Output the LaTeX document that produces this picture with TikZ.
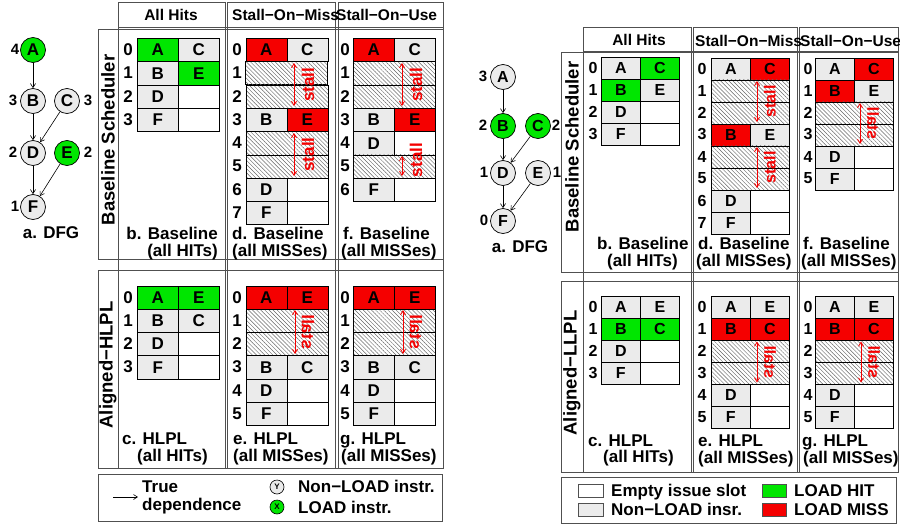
\documentclass[tikz,border=0pt]{standalone}
\usepackage{fontspec}
\setmainfont{Liberation Sans}
\usetikzlibrary{arrows.meta,patterns.meta}

\definecolor{hitg}{RGB}{0,230,0}
\definecolor{missr}{RGB}{245,0,0}
\definecolor{cellg}{RGB}{235,235,235}
\definecolor{framec}{RGB}{80,80,80}

\newcommand\bfs[1]{\fontsize{#1}{#1}\selectfont\bfseries}

\tikzset{
 cell/.style={draw=black, line width=0.7pt, inner sep=0pt, anchor=north west, font=\cellfont},
 cL/.style={fill=cellg}, cG/.style={fill=hitg}, cR/.style={fill=missr}, cW/.style={fill=white},
 hatchrow/.style={draw=black, line width=0.7pt, inner sep=0pt, anchor=north west,
   pattern={Lines[angle=-45,distance=2.9pt,line width=0.45pt]}, pattern color=black!60},
 rownum/.style={font=\cellfont, inner sep=0pt},
 frame/.style={draw=framec, line width=1pt},
 dnode/.style={circle, draw=black, line width=0.7pt, minimum size=25pt, inner sep=0pt, font=\dfgfont, fill=cellg},
 dnum/.style={font=\bfs{15}, inner sep=0pt},
 dep/.style={-{Straight Barb[length=4pt,width=5pt]}, line width=0.6pt},
 stallarr/.style={{Straight Barb[length=4pt,width=5pt]}-{Straight Barb[length=4pt,width=5pt]}, draw=missr, line width=0.8pt},
 stalltxt/.style={text=missr, font=\stallfont, inner sep=0pt, rotate=90},
 mirror/.style={yscale=-1},
 lbl/.style={font=\bfs{17}, inner sep=0pt},
 hdr/.style={font=\bfs{15.5}, inner sep=0pt},
 side/.style={font=\bfs{18.5}, inner sep=0pt, rotate=90},
 lcirc/.style={circle, draw=black, line width=0.6pt, minimum size=14pt, inner sep=0pt, font=\bfs{8}},
 swatch/.style={draw=framec, line width=0.8pt},
}

\newcommand\trow[6]{%
  \node[cell,#3,minimum width=\cw,minimum height=\rh] (#1#2a) at (\tx,{\ty+#2*\rh}) {#4};
  \node[cell,#5,minimum width=\cw,minimum height=\rh] (#1#2b) at ({\tx+\cw},{\ty+#2*\rh}) {#6};
  \node[rownum] (#1n#2) at (\nx,{\ty+(#2+0.5)*\rh}) {#2};}
\newcommand\hrow[2]{%
  \node[hatchrow,minimum width={2*\cw},minimum height=\rh] (#1#2h) at (\tx,{\ty+#2*\rh}) {};
  \node[rownum] (#1n#2) at (\nx,{\ty+(#2+0.5)*\rh}) {#2};}
\newcommand\stallmark[7]{%
  \coordinate (#1t) at (#2,#3); \coordinate (#1b) at (#2,#4);
  \draw[stallarr] (#1t) -- (#1b);
  \node[stalltxt,#7] (#1l) at (#5,#6) {stall};}

\begin{document}
\begin{tikzpicture}[x={(1pt,0)}, y={(0,-1pt)}]
\useasboundingbox (0,0) rectangle (900,525);
\fill[white] (0,0) rectangle (900,525);

%================ LEFT PANEL =================
% frames
\draw[frame] (118,2) rectangle (225,468);
\draw[frame] (227,2) rectangle (335,468);
\draw[frame] (338,2) rectangle (443,468);
\draw[frame] (118,27) -- (443,27);
\draw[frame] (98,29) rectangle (443,259);
\draw[frame] (98,270) rectangle (443,468);
\draw[frame] (98,474) rectangle (442,521);

\node[hdr] (LhA) at (171,15) {All Hits};
\node[hdr,anchor=base west] (LhM) at (232,20) {Stall−On−Miss};
\node[hdr,anchor=base west] (LhU) at (336,20) {Stall−On−Use};
\node[side] (LsB) at (108,140) {Baseline Scheduler};
\node[side] (LsA) at (108,365) {Aligned−HLPL};

% DFG
\def\dfgfont{\bfs{17}}
\node[dnode,fill=hitg] (LA) at (33,50) {A};
\node[dnode] (LB) at (33,101) {B};
\node[dnode] (LC) at (67,101) {C};
\node[dnode] (LD) at (33,153) {D};
\node[dnode,fill=hitg] (LE) at (67,153) {E};
\node[dnode] (LF) at (33,207) {F};
\draw[dep] (LA) -- (LB);
\draw[dep] (LB) -- (LD);
\draw[dep] (LC) -- (LD);
\draw[dep] (LD) -- (LF);
\draw[dep] (LE) -- (LF);
\node[dnum] (LnA) at (15,49) {4};
\node[dnum] (LnB) at (13,100) {3};
\node[dnum] (LnC) at (88,100) {3};
\node[dnum] (LnD) at (13,152) {2};
\node[dnum] (LnE) at (88,152) {2};
\node[dnum] (LnF) at (15,206) {1};
\node[lbl,anchor=base] (LdfgT) at (51,238) {a. DFG};

% tables
\def\cellfont{\bfs{17}}
\def\stallfont{\bfs{17}}
\def\cw{41}\def\rh{23.3}
% b
\def\tx{137}\def\ty{38}\def\nx{128}
\trow{Lb}{0}{cG}{A}{cL}{C}
\trow{Lb}{1}{cL}{B}{cG}{E}
\trow{Lb}{2}{cL}{D}{cW}{}
\trow{Lb}{3}{cL}{F}{cW}{}
% d
\def\tx{245.5}\def\nx{237}
\trow{Ld}{0}{cR}{A}{cL}{C}
\hrow{Ld}{1}\hrow{Ld}{2}
\trow{Ld}{3}{cL}{B}{cR}{E}
\hrow{Ld}{4}\hrow{Ld}{5}
\trow{Ld}{6}{cL}{D}{cW}{}
\trow{Ld}{7}{cL}{F}{cW}{}
% f
\def\tx{353}\def\nx{345}
\trow{Lf}{0}{cR}{A}{cL}{C}
\hrow{Lf}{1}\hrow{Lf}{2}
\trow{Lf}{3}{cL}{B}{cR}{E}
\trow{Lf}{4}{cL}{D}{cW}{}
\hrow{Lf}{5}
\trow{Lf}{6}{cL}{F}{cW}{}
% c
\def\tx{137}\def\ty{285.5}\def\nx{128}
\trow{Lc}{0}{cG}{A}{cG}{E}
\trow{Lc}{1}{cL}{B}{cL}{C}
\trow{Lc}{2}{cL}{D}{cW}{}
\trow{Lc}{3}{cL}{F}{cW}{}
% e
\def\tx{245.5}\def\nx{237}
\trow{Le}{0}{cR}{A}{cR}{E}
\hrow{Le}{1}\hrow{Le}{2}
\trow{Le}{3}{cL}{B}{cL}{C}
\trow{Le}{4}{cL}{D}{cW}{}
\trow{Le}{5}{cL}{F}{cW}{}
% g
\def\tx{353}\def\nx{345}
\trow{Lg}{0}{cR}{A}{cR}{E}
\hrow{Lg}{1}\hrow{Lg}{2}
\trow{Lg}{3}{cL}{B}{cL}{C}
\trow{Lg}{4}{cL}{D}{cW}{}
\trow{Lg}{5}{cL}{F}{cW}{}

% stalls
\stallmark{Lsd1}{294}{63}{106}{308}{84.6}{}
\stallmark{Lsd2}{294}{133}{176}{308}{154.5}{}
\stallmark{Lsf1}{402}{63}{106}{416}{84.6}{}
\stallmark{Lsf2}{402}{156}{176}{416}{160}{}
\stallmark{Lse1}{295}{310}{354}{308}{332}{mirror}
\stallmark{Lsg1}{403}{310}{354}{416}{332}{mirror}

% captions
\node[lbl,anchor=base east] (Lcb1) at (218,239) {b. Baseline};
\node[lbl,anchor=base east] (Lcb2) at (218,256) {(all HITs)};
\node[lbl,anchor=base west] (Lcd1) at (232,239) {d. Baseline};
\node[lbl,anchor=base west] (Lcd2) at (232,256) {(all MISSes)};
\node[lbl,anchor=base west] (Lcf1) at (343,239) {f. Baseline};
\node[lbl,anchor=base west] (Lcf2) at (341,256) {(all MISSes)};
\node[lbl,anchor=base west] (Lcc1) at (122,444) {c. HLPL};
\node[lbl,anchor=base west] (Lcc2) at (137,461) {(all HITs)};
\node[lbl,anchor=base west] (Lce1) at (233,444) {e. HLPL};
\node[lbl,anchor=base west] (Lce2) at (233,461) {(all MISSes)};
\node[lbl,anchor=base west] (Lcg1) at (340,444) {g. HLPL};
\node[lbl,anchor=base west] (Lcg2) at (341,461) {(all MISSes)};

% legend
\coordinate (LlgA) at (113,497);
\coordinate (LlgB) at (138,497);
\draw[dep] (LlgA) -- (LlgB);
\node[lbl,anchor=base west] (Llg1) at (142,492) {True};
\node[lbl,anchor=base west] (Llg2) at (142,510) {dependence};
\node[lcirc,fill=cellg] (LlgY) at (277,487) {Y};
\node[lcirc,fill=hitg] (LlgX) at (277,507) {X};
\node[lbl,anchor=base west] (Llg3) at (298,492) {Non−LOAD instr.};
\node[lbl,anchor=base west] (Llg4) at (298,513) {LOAD instr.};

%================ RIGHT PANEL =================
\draw[frame] (583,27) rectangle (691,472);
\draw[frame] (693,27) rectangle (797,472);
\draw[frame] (799,27) rectangle (898,472);
\draw[frame] (583,51) -- (898,51);
\draw[frame] (561,52) rectangle (898,272);
\draw[frame] (561,281) rectangle (898,472);
\draw[frame] (561,477) rectangle (896,523);

\node[hdr] (RhA) at (639,40) {All Hits};
\node[hdr,anchor=base west] (RhM) at (695,46) {Stall−On−Miss};
\node[hdr,anchor=base west] (RhU) at (800,46) {Stall−On−Use};
\node[side] (RsB) at (572,147) {Baseline Scheduler};
\node[side] (RsA) at (572,373) {Aligned−LLPL};

% DFG
\def\dfgfont{\bfs{16}}
\node[dnode] (RA) at (503,77) {A};
\node[dnode,fill=hitg] (RB) at (503,126) {B};
\node[dnode,fill=hitg] (RC) at (538,126) {C};
\node[dnode] (RD) at (503,173) {D};
\node[dnode] (RE) at (538,173) {E};
\node[dnode] (RF) at (503,221) {F};
\draw[dep] (RA) -- (RB);
\draw[dep] (RB) -- (RD);
\draw[dep] (RC) -- (RD);
\draw[dep] (RD) -- (RF);
\draw[dep] (RE) -- (RF);
\node[dnum] (RnA) at (483,76) {3};
\node[dnum] (RnB) at (483,125) {2};
\node[dnum] (RnC) at (556,125) {2};
\node[dnum] (RnD) at (484,172) {1};
\node[dnum] (RnE) at (557,172) {1};
\node[dnum] (RnF) at (484,220) {0};
\node[lbl,anchor=base] (RdfgT) at (520,252) {a. DFG};

% tables
\def\cellfont{\bfs{16}}
\def\stallfont{\bfs{16}}
\def\cw{39}\def\rh{22}
% b
\def\tx{601}\def\ty{57}\def\nx{593}
\trow{Rb}{0}{cL}{A}{cG}{C}
\trow{Rb}{1}{cG}{B}{cL}{E}
\trow{Rb}{2}{cL}{D}{cW}{}
\trow{Rb}{3}{cL}{F}{cW}{}
% d
\def\tx{711}\def\ty{57.5}\def\nx{702}
\trow{Rd}{0}{cL}{A}{cR}{C}
\hrow{Rd}{1}\hrow{Rd}{2}
\trow{Rd}{3}{cR}{B}{cL}{E}
\hrow{Rd}{4}\hrow{Rd}{5}
\trow{Rd}{6}{cL}{D}{cW}{}
\trow{Rd}{7}{cL}{F}{cW}{}
% f
\def\tx{815}\def\nx{808}
\trow{Rf}{0}{cL}{A}{cR}{C}
\trow{Rf}{1}{cR}{B}{cL}{E}
\hrow{Rf}{2}\hrow{Rf}{3}
\trow{Rf}{4}{cL}{D}{cW}{}
\trow{Rf}{5}{cL}{F}{cW}{}
% c
\def\tx{601}\def\ty{296}\def\nx{593}
\trow{Rc}{0}{cL}{A}{cL}{E}
\trow{Rc}{1}{cG}{B}{cG}{C}
\trow{Rc}{2}{cL}{D}{cW}{}
\trow{Rc}{3}{cL}{F}{cW}{}
% e
\def\tx{711}\def\nx{702}
\trow{Re}{0}{cL}{A}{cL}{E}
\trow{Re}{1}{cR}{B}{cR}{C}
\hrow{Re}{2}\hrow{Re}{3}
\trow{Re}{4}{cL}{D}{cW}{}
\trow{Re}{5}{cL}{F}{cW}{}
% g
\def\tx{815}\def\nx{808}
\trow{Rg}{0}{cL}{A}{cL}{E}
\trow{Rg}{1}{cR}{B}{cR}{C}
\hrow{Rg}{2}\hrow{Rg}{3}
\trow{Rg}{4}{cL}{D}{cW}{}
\trow{Rg}{5}{cL}{F}{cW}{}

% stalls
\stallmark{Rsd1}{757}{81}{122}{770}{101.5}{}
\stallmark{Rsd2}{757}{147}{188}{770}{167.5}{}
\stallmark{Rsf1}{860}{103}{144}{873}{123.5}{mirror}
\stallmark{Rse1}{757}{341.5}{382.5}{770}{362}{mirror}
\stallmark{Rsg1}{861}{341.5}{382.5}{874}{362}{mirror}

% captions
\node[lbl,anchor=base west] (Rcb1) at (597,249) {b. Baseline};
\node[lbl,anchor=base west] (Rcb2) at (607,266) {(all HITs)};
\node[lbl,anchor=base west] (Rcd1) at (698,249) {d. Baseline};
\node[lbl,anchor=base west] (Rcd2) at (696,266) {(all MISSes)};
\node[lbl,anchor=base west] (Rcf1) at (803,249) {f. Baseline};
\node[lbl,anchor=base west] (Rcf2) at (801,266) {(all MISSes)};
\node[lbl,anchor=base west] (Rcc1) at (588,446) {c. HLPL};
\node[lbl,anchor=base west] (Rcc2) at (603,462) {(all HITs)};
\node[lbl,anchor=base west] (Rce1) at (698,446) {e. HLPL};
\node[lbl,anchor=base west] (Rce2) at (698,463) {(all MISSes)};
\node[lbl,anchor=base west] (Rcg1) at (802,446) {g. HLPL};
\node[lbl,anchor=base west] (Rcg2) at (803,463) {(all MISSes)};

% legend
\draw[swatch,fill=white] (578,484) rectangle (603,497);
\draw[swatch,fill=cellg] (578,503) rectangle (603,516);
\draw[swatch,fill=hitg] (762,484) rectangle (786,497);
\draw[swatch,fill=missr] (762,503) rectangle (786,516);
\node[lbl,anchor=base west] (Rlg1) at (611,496) {Empty issue slot};
\node[lbl,anchor=base west] (Rlg2) at (611,515) {Non−LOAD insr.};
\node[lbl,anchor=base west] (Rlg3) at (794,496) {LOAD HIT};
\node[lbl,anchor=base west] (Rlg4) at (794,515) {LOAD MISS};
\end{tikzpicture}
\end{document}
